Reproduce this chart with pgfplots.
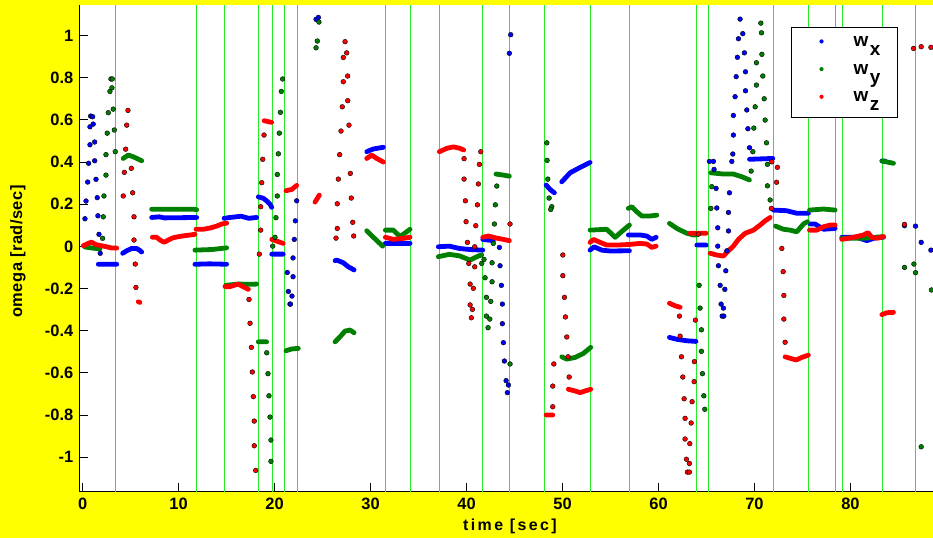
\documentclass[border=0pt]{standalone}
\usepackage{fontspec}
\setmainfont{Liberation Sans}
\newfontfamily\xlblfont[LetterSpace=15]{Liberation Sans}
\newfontfamily\ylblfont[LetterSpace=3]{Liberation Sans}
\usepackage{pgfplots}
\pgfplotsset{compat=1.18}
\definecolor{mblue}{RGB}{0,0,255}
\definecolor{mgreen}{RGB}{0,128,0}
\definecolor{mred}{RGB}{255,0,0}
\definecolor{vline}{RGB}{40,235,40}
\definecolor{figbg}{RGB}{255,255,0}
\newcommand\tickfont{\fontsize{16.5}{18}\selectfont\bfseries}

\pgfplotsset{
  dots/.style={only marks, mark=*, mark size=2.4pt, mark options={draw=none, fill=#1}, forget plot},
  runs/.style={#1, line width=4.8bp, line cap=round, line join=round, unbounded coords=jump, forget plot},
  dotkey/.style={legend image code/.code={\path[draw=none, fill=none] (0,-4bp) rectangle (23bp,8bp); \fill[#1, draw=none] (13bp,3bp) circle (2.1bp);}},
}
\newcommand\wlab[1]{\fontsize{19}{20}\selectfont\bfseries w\kern1.5bp\raisebox{-9bp}{#1}}

\begin{document}
\begin{tikzpicture}
\path[use as bounding box, fill=figbg] (-79.3bp,-46.3bp) rectangle (853.7bp,491.7bp);
\begin{axis}[
  scale only axis, width=853.7bp, height=486.7bp,
  xmin=-0.35, xmax=88.6, ymin=-1.164, ymax=1.145,
  axis background/.style={fill=white},
  axis x line*=bottom, axis y line*=left,
  axis line style={line width=1bp, black, -},
  tick align=inside, major tick length=9bp,
  tick style={line width=0.8bp, black},
  xtick={0,10,...,80},
  ytick={-1,-0.8,-0.6,-0.4,-0.2,0,0.2,0.4,0.6,0.8,1},
  ticklabel style={font=\tickfont},
  /pgf/number format/assume math mode=true,
  yticklabel style={xshift=-2.5bp},
  xticklabel style={yshift=-3bp},
  xlabel={time [sec]}, ylabel={omega [rad/sec]},
  xlabel style={font=\fontsize{16}{18}\selectfont\bfseries\xlblfont,
    at={(axis description cs:0.5045,-0.072)}, anchor=center},
  ylabel style={font=\fontsize{16.5}{18}\selectfont\bfseries\ylblfont,
    at={(axis description cs:-0.0718,0.4935)}, anchor=center},
  legend style={at={(0.8337,0.9554)}, anchor=north west, draw=black, line width=1bp,
    fill=white, inner xsep=17bp, inner ysep=5.3bp, row sep=3.9bp,
    nodes={inner sep=0pt, text height=14bp, text depth=9.8bp},
    /tikz/every odd column/.append style={column sep=22bp}},
  legend cell align=left,
]
% event markers
\pgfplotsinvokeforeach{3.40,11.88,14.83,18.30,19.76,20.98,22.41,31.54,34.11,37.21,41.69,44.46,48.11,52.90,56.97,63.99,65.20,71.98,75.62,78.40,79.21,83.34,86.82}{
  \draw[vline, line width=1bp] (axis cs:#1,-1.164) -- (axis cs:#1,1.145);
}

% ---- w_x ----
\addplot[runs=mblue] coordinates {
(1.63,-0.085) (3.55,-0.085) (3.6,nan)
(4.17,-0.033) (4.59,-0.021) (5.10,-0.010) (5.63,-0.010) (5.97,-0.020) (6.15,-0.027) (6.2,nan)
(7.19,0.137) (8.0,0.140) (8.5,0.135) (11.88,0.137) (11.9,nan)
(11.7,-0.085) (13.2,-0.083) (15.0,-0.085) (15.1,nan)
(14.73,0.133) (15.36,0.137) (16.5,0.143) (17.3,0.133) (18.13,0.137) (18.2,nan)
(18.30,0.235) (18.82,0.228) (19.17,0.216) (19.52,0.200) (19.70,0.185) (19.7,nan)
(19.70,-0.037) (20.90,-0.037) (21.0,nan)
(26.30,-0.068) (26.47,-0.065) (27.16,-0.078) (27.68,-0.097) (28.28,-0.112) (28.3,nan)
(29.60,0.449) (30.29,0.462) (31.33,0.470) (31.4,nan)
(31.54,0.014) (34.11,0.014) (34.2,nan)
(37.06,-0.002) (38.2,0.001) (39.25,-0.010) (40.3,-0.015) (41.69,-0.018) (41.7,nan)
(41.69,0.033) (42.79,0.027) (42.8,nan)
(48.29,0.291) (48.70,0.270) (49.15,0.254) (49.2,nan)
(49.92,0.306) (50.79,0.349) (51.65,0.370) (52.35,0.386) (52.87,0.398) (52.9,nan)
(52.87,-0.018) (53.29,-0.002) (54.09,-0.018) (54.96,-0.022) (56.97,-0.021) (57.0,nan)
(56.86,0.054) (58.08,0.054) (58.78,0.049) (59.30,0.033) (59.75,0.043) (59.8,nan)
(61.14,-0.432) (61.91,-0.441) (62.95,-0.448) (63.90,-0.451) (63.95,nan)
(63.99,0.006) (64.96,0.006) (65.0,nan)
(69.48,0.413) (71.91,0.417) (71.95,nan)
(71.98,0.172) (73.36,0.169) (74.41,0.157) (75.62,0.157) (75.7,nan)
(75.80,0.106) (76.32,0.106) (77.19,0.081) (78.40,0.085) (78.5,nan)
(79.10,0.043) (80.67,0.043) (81.71,0.027) (82.75,0.043) (83.44,0.043) (83.5,nan)
(83.27,0.405) (83.6,0.405)
};
\addplot[dots=mblue] coordinates {
(0.24,0.131) (0.35,0.215) (0.52,0.305) (0.62,0.394) (0.76,0.482) (0.76,0.567) (0.83,0.618)
(1.04,0.615) (1.10,0.580) (1.25,0.495) (1.25,0.406) (1.39,0.318) (1.52,0.231) (1.59,0.145)
(1.70,0.057) (1.83,-0.033)
(22.30,0.216) (22.16,0.121) (22.05,0.033) (21.92,-0.055) (21.32,-0.124) (21.92,-0.144)
(21.43,-0.214) (21.81,-0.236) (21.60,-0.274) (21.65,-0.274)
(24.32,1.077) (24.56,1.086)
(44.60,1.004) (44.46,0.916)
(43.42,-0.005) (43.49,-0.092) (43.63,-0.185) (43.73,-0.274) (43.73,-0.367) (43.84,-0.457)
(43.94,-0.544) (44.12,-0.637) (44.36,-0.658) (44.25,-0.694)
(65.30,0.403) (65.72,0.403) (65.79,0.365) (66.00,0.275) (66.07,0.182) (66.17,0.088)
(66.17,0.001) (66.24,-0.092) (67.01,-0.116) (66.42,-0.185) (66.91,-0.204) (66.52,-0.274)
(66.76,-0.293) (66.63,-0.331) (66.80,-0.331)
(67.12,-0.021) (67.29,0.073) (67.29,0.161) (67.39,0.254) (67.64,0.403) (67.74,0.438)
(67.80,0.528) (67.80,0.621) (67.98,0.710) (68.09,0.805) (68.22,0.897) (68.33,0.985)
(68.50,1.078) (68.78,1.009) (68.95,0.918) (69.06,0.828) (69.06,0.738) (69.20,0.647)
(69.31,0.558) (69.48,0.468)
(85.63,0.098) (86.78,0.096) (87.37,0.019) (88.38,-0.018)
};

% ---- w_y ----
\addplot[runs=mgreen] coordinates {
(0.24,-0.003) (1.0,-0.008) (1.8,-0.012) (1.9,nan)
(4.23,0.417) (4.75,0.433) (5.27,0.425) (5.69,0.416) (6.15,0.406) (6.2,nan)
(7.19,0.176) (11.6,0.176) (11.88,0.174) (11.9,nan)
(11.70,-0.018) (13.5,-0.015) (15.0,-0.007) (15.1,nan)
(14.9,-0.185) (16.2,-0.179) (17.5,-0.180) (18.13,-0.179) (18.2,nan)
(18.30,-0.453) (19.17,-0.453) (19.2,nan)
(21.19,-0.495) (21.78,-0.487) (22.47,-0.484) (22.5,nan)
(26.30,-0.453) (26.82,-0.429) (27.34,-0.402) (27.86,-0.397) (28.28,-0.410) (28.3,nan)
(29.60,0.074) (30.29,0.043) (31.26,0.001) (31.3,nan)
(31.54,0.077) (32.38,0.077) (33.07,0.046) (34.11,0.081) (34.2,nan)
(37.06,-0.049) (38.20,-0.038) (39.25,-0.045) (40.36,-0.065) (41.23,-0.046) (41.58,-0.041) (41.6,nan)
(43.07,0.343) (43.84,0.338) (44.46,0.333) (44.5,nan)
(49.92,-0.524) (50.44,-0.535) (51.31,-0.527) (52.17,-0.508) (52.94,-0.479) (53.0,nan)
(52.87,0.077) (54.61,0.081) (55.48,0.043) (56.34,0.077) (56.97,0.101) (57.0,nan)
(56.86,0.180) (57.22,0.188) (57.74,0.164) (58.26,0.144) (59.12,0.144) (59.82,0.148) (59.9,nan)
(61.14,0.109) (61.91,0.085) (62.95,0.062) (63.64,0.054) (63.99,0.054) (64.0,nan)
(65.45,0.349) (66.77,0.343) (67.80,0.343) (68.68,0.330) (69.48,0.315) (69.5,nan)
(72.19,0.096) (73.02,0.081) (73.71,0.077) (74.41,0.069) (75.10,0.106) (75.52,0.117) (75.6,nan)
(75.73,0.172) (77.19,0.177) (78.40,0.172) (78.5,nan)
(79.10,0.038) (81.36,0.038) (83.44,0.046) (83.5,nan)
(83.30,0.405) (84.48,0.394)
};
\addplot[dots=mgreen] coordinates {
(2.15,0.140) (2.08,0.038) (2.22,0.239) (2.43,0.338) (2.43,0.435) (2.56,0.537) (2.67,0.634)
(2.84,0.735) (2.95,0.794) (3.09,0.794) (3.05,0.752) (3.19,0.651) (3.30,0.552) (3.40,0.449)
(19.18,-0.505) (19.31,-0.604) (19.41,-0.709) (19.52,-0.810) (19.62,-0.919) (19.62,-1.020)
(20.04,0.043) (19.80,0.001) (20.14,0.136) (20.28,0.239) (20.28,0.341) (20.39,0.439)
(20.49,0.537) (20.60,0.636) (20.70,0.735) (20.84,0.794)
(24.45,0.974) (24.32,0.942) (24.62,1.064)
(41.58,-0.081) (41.82,-0.062) (42.66,-0.078) (41.93,-0.149) (42.66,-0.168) (42.07,-0.242)
(42.52,-0.261) (42.07,-0.331) (42.42,-0.345) (42.24,-0.386) (44.53,-0.558)
(42.79,0.014) (42.90,0.106) (43.00,0.197) (43.15,0.286)
(48.36,0.491) (48.39,0.408) (48.46,0.319) (48.60,0.229) (48.88,0.188) (48.77,0.175)
(64.23,-0.185) (64.33,-0.293) (64.47,-0.396) (64.47,-0.498) (64.58,-0.604) (64.72,-0.709)
(64.82,-0.773)
(65.45,0.180) (65.55,0.283)
(69.65,0.357) (69.83,0.449) (69.93,0.561) (70.07,0.662) (70.20,0.765) (70.20,0.871)
(70.66,1.059) (70.73,1.013) (70.77,0.911) (70.87,0.808) (71.01,0.700) (71.11,0.599)
(71.25,0.491) (71.35,0.389) (71.35,0.287) (71.63,0.220)
(85.63,-0.100) (86.61,-0.084) (86.78,-0.125) (88.44,-0.207) (87.37,-0.951)
};

% ---- w_z ----
\addplot[runs=mred] coordinates {
(0.06,0.003) (0.59,0.014) (0.90,0.020) (1.40,0.008) (1.94,0.003) (2.50,-0.002) (3.00,-0.008) (3.55,-0.008) (3.6,nan)
(5.80,-0.263) (5.97,-0.266) (6.0,nan)
(7.26,0.043) (7.70,0.043) (8.06,0.030) (8.50,0.019) (8.92,0.030) (9.44,0.041) (10.0,0.046) (10.52,0.050) (11.04,0.053) (11.70,0.057) (11.75,nan)
(11.81,0.081) (12.57,0.081) (13.27,0.087) (13.97,0.096) (14.49,0.106) (15.0,0.110) (15.1,nan)
(14.83,-0.191) (15.35,-0.191) (16.20,-0.179) (16.70,-0.191) (17.26,-0.204) (17.3,nan)
(18.91,0.596) (19.70,0.588) (19.75,nan)
(19.70,0.033) (20.39,0.022) (20.90,0.014) (21.0,nan)
(21.19,0.264) (21.78,0.270) (22.30,0.289) (22.4,nan)
(24.21,0.210) (24.66,0.243) (24.7,nan)
(29.60,0.417) (30.12,0.433) (30.64,0.417) (31.33,0.400) (31.4,nan)
(31.54,0.043) (32.38,0.033) (33.40,0.038) (34.11,0.043) (34.2,nan)
(37.17,0.449) (37.94,0.465) (38.63,0.472) (39.30,0.465) (39.70,0.457) (39.8,nan)
(41.69,0.043) (42.28,0.049) (43.15,0.039) (43.84,0.033) (44.46,0.027) (44.5,nan)
(48.29,-0.800) (48.98,-0.800) (49.0,nan)
(50.61,-0.678) (51.31,-0.686) (51.83,-0.694) (52.35,-0.686) (52.94,-0.678) (53.0,nan)
(52.87,0.019) (53.22,0.033) (53.91,0.019) (54.61,0.006) (55.65,0.006) (56.97,0.009) (58.08,0.014) (58.78,0.011) (59.30,-0.005) (59.75,0.001) (59.8,nan)
(61.14,-0.270) (61.73,-0.282) (62.25,-0.289) (62.3,nan)
(63.30,0.062) (64.96,0.062) (65.0,nan)
(65.38,-0.033) (66.07,-0.041) (66.76,-0.046) (67.29,-0.021) (67.80,0.001) (68.33,0.033) (69.03,0.062) (69.89,0.077) (70.59,0.101) (71.11,0.121) (71.63,0.137) (71.7,nan)
(73.19,-0.524) (73.71,-0.531) (74.34,-0.539) (74.93,-0.527) (75.62,-0.516) (75.7,nan)
(75.73,0.077) (76.50,0.077) (77.19,0.093) (77.89,0.101) (78.40,0.101) (78.5,nan)
(79.10,0.033) (80.31,0.043) (81.36,0.054) (81.82,0.065) (82.23,0.043) (82.75,0.038) (83.44,0.046) (83.5,nan)
(83.27,-0.324) (83.79,-0.315) (84.48,-0.313)
};
\addplot[dots=mred] coordinates {
(4.23,0.239) (4.34,0.351) (4.48,0.461) (4.59,0.575) (4.72,0.645) (5.07,0.370) (5.21,0.254)
(5.35,0.140) (5.35,0.030) (5.48,-0.084) (5.55,-0.195)
(18.90,0.528) (18.76,0.413) (18.66,0.302) (18.55,0.188) (18.55,0.077) (18.41,-0.037)
(17.33,-0.252) (17.44,-0.365) (17.58,-0.479) (17.68,-0.596) (17.78,-0.713) (17.88,-0.829)
(17.88,-0.946) (18.03,-1.063)
(27.34,0.971) (27.51,0.918) (27.16,0.896) (27.61,0.808) (27.16,0.781) (27.62,0.691)
(27.05,0.662) (27.75,0.575) (26.92,0.547) (26.78,0.435) (27.89,0.346) (26.64,0.319)
(27.99,0.229) (26.53,0.202) (28.14,0.114) (26.53,0.085) (26.40,0.039) (28.24,0.049)
(39.74,0.416) (41.34,0.389) (41.48,0.449) (39.74,0.319) (41.23,0.296) (39.88,0.216)
(41.13,0.197) (39.95,0.117) (40.96,0.098) (40.09,0.019) (40.85,-0.002) (40.23,-0.081)
(40.85,-0.097) (40.37,-0.179) (40.71,-0.199) (40.37,-0.278) (40.61,-0.299) (40.50,-0.339)
(44.53,0.106) (50.03,-0.041)
(50.03,-0.139) (50.20,-0.242) (50.30,-0.335) (50.44,-0.430) (50.58,-0.524) (50.69,-0.620)
(49.09,-0.558) (48.98,-0.663) (48.98,-0.761)
(62.18,-0.331) (62.25,-0.426) (62.39,-0.524) (62.53,-0.620) (62.67,-0.723) (62.77,-0.816)
(62.77,-0.914) (62.91,-1.010) (63.01,-1.071) (63.22,-1.071) (63.22,-1.030) (63.26,-0.936)
(63.40,-0.838) (63.50,-0.737) (63.71,-0.642) (63.74,-0.547) (63.85,-0.350) (64.16,0.058)
(71.81,0.401) (72.39,0.375) (72.30,0.304) (71.76,0.180) (72.85,-0.010)
(72.99,-0.120) (73.06,-0.233) (73.06,-0.345) (73.19,-0.455)
(85.63,0.104) (86.57,0.939) (87.37,0.947) (88.38,0.944)
};

\addlegendimage{dotkey=mblue}
\addlegendentry{\wlab{x}}
\addlegendimage{dotkey=mgreen}
\addlegendentry{\wlab{y}}
\addlegendimage{dotkey=mred}
\addlegendentry{\wlab{z}}
\end{axis}
\end{tikzpicture}
\end{document}
